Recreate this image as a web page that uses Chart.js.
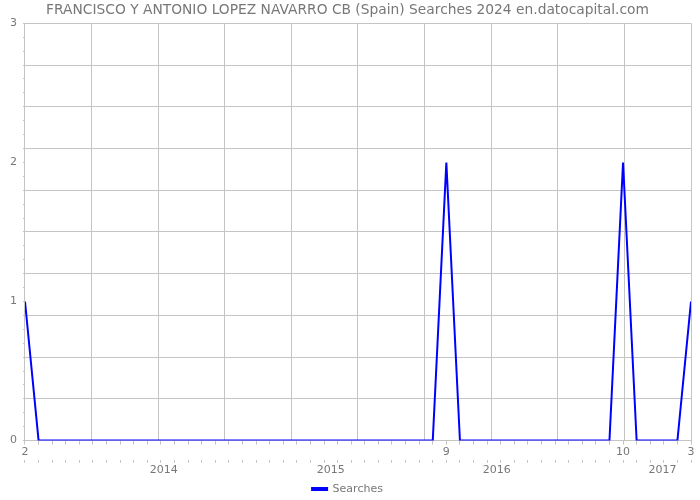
<!DOCTYPE html>
<html>
<head>
<meta charset="utf-8">
<script src="https://cdn.jsdelivr.net/npm/chart.js@4"></script>
<style>
  html, body { margin: 0; padding: 0; background: #fff; }
  #wrap { width: 700px; height: 500px; }
</style>
</head>
<body>
<div id="wrap"><canvas id="c" width="700" height="500"></canvas></div>
<script>
// ---- data (monthly, Feb 2013 .. Mar 2017) ----
const months = [
  '2013-02','2013-03','2013-04','2013-05','2013-06','2013-07','2013-08','2013-09','2013-10','2013-11','2013-12',
  '2014-01','2014-02','2014-03','2014-04','2014-05','2014-06','2014-07','2014-08','2014-09','2014-10','2014-11','2014-12',
  '2015-01','2015-02','2015-03','2015-04','2015-05','2015-06','2015-07','2015-08','2015-09','2015-10','2015-11','2015-12',
  '2016-01','2016-02','2016-03','2016-04','2016-05','2016-06','2016-07','2016-08','2016-09','2016-10','2016-11','2016-12',
  '2017-01','2017-02','2017-03'
];
const searches = [
  1,0,0,0,0,0,0,0,0,0,0,
  0,0,0,0,0,0,0,0,0,0,0,0,
  0,0,0,0,0,0,0,0,2,0,0,0,
  0,0,0,0,0,0,0,0,0,2,0,0,
  0,0,1
];
// month-number labels shown under the axis (by month string)
const monthTickLabels = { '2013-02': '2', '2015-09': '9', '2016-10': '10', '2017-03': '3' };
// year labels and their position along the month axis (in months from the first point)
const yearLabels = ['2014', '2015', '2016', '2017'];
const yearLabelAt = [10.2, 22.5, 34.7, 46.9];
const yTickLabels = ['0', '1', '2', '3'];

const FONT = "'DejaVu Sans', sans-serif";
const GRID = '#c4c4c4';
const TXT = '#777777';
const lastIdx = months.length - 1;

const points = searches.map((v, i) => ({ x: i, y: v }));

new Chart(document.getElementById('c'), {
  type: 'line',
  data: {
    datasets: [{
      label: 'Searches',
      data: points,
      borderColor: '#0000ff',
      backgroundColor: '#0000ff',
      borderWidth: 2,
      pointRadius: 0,
      tension: 0,
      fill: false
    }]
  },
  options: {
    responsive: false,
    animation: false,
    events: [],
    layout: { padding: { left: 4, right: 9, top: 0, bottom: -4.5 } },
    plugins: {
      title: {
        display: true,
        text: 'FRANCISCO Y ANTONIO LOPEZ NAVARRO CB (Spain) Searches 2024 en.datocapital.com',
        color: TXT,
        font: { family: FONT, size: 13.8, weight: 'normal' },
        padding: { top: 2.4, bottom: 4.4 }
      },
      legend: {
        position: 'bottom',
        labels: {
          boxWidth: 15, boxHeight: 2,
          color: TXT,
          font: { family: FONT, size: 11 },
          padding: 5.5
        }
      },
      tooltip: { enabled: false }
    },
    scales: {
      x: {
        type: 'linear', position: 'bottom', weight: 0,
        min: 0, max: lastIdx,
        afterBuildTicks: (s) => {
          const t = months.map((m, i) => ({ value: i, kind: 'm', m: m }));
          for (let k = 0; k <= 10; k++) t.push({ value: lastIdx * k / 10, kind: 'g' });
          s.ticks = t;
        },
        ticks: {
          autoSkip: false, maxRotation: 0, minRotation: 0,
          color: TXT, font: { family: FONT, size: 11 }, padding: 1,
          callback: function (v, i, t) {
            const tk = t[i];
            if (tk.kind === 'm' && monthTickLabels[tk.m]) return monthTickLabels[tk.m];
            return '';
          }
        },
        grid: {
          display: true, drawOnChartArea: true, drawTicks: true, tickLength: 4,
          color: (c) => (c.tick && c.tick.kind === 'g') ? GRID : 'rgba(0,0,0,0)',
          tickColor: (c) => (c.tick && c.tick.kind === 'm') ? GRID : 'rgba(0,0,0,0)',
          lineWidth: 1
        },
        border: { display: false }
      },
      xYears: {
        type: 'linear', position: 'bottom', weight: 1,
        min: 0, max: lastIdx,
        afterBuildTicks: (s) => {
          const t = months.map((m, i) => ({ value: i, kind: 'm' }));
          yearLabels.forEach((y, j) => t.push({ value: yearLabelAt[j], kind: 'y', y: y }));
          s.ticks = t;
        },
        ticks: {
          autoSkip: false, maxRotation: 0, minRotation: 0,
          color: TXT, font: { family: FONT, size: 11 }, padding: 1,
          callback: function (v, i, t) {
            const tk = t[i];
            return tk.kind === 'y' ? tk.y : '';
          }
        },
        grid: {
          display: true, drawOnChartArea: false, drawTicks: true, tickLength: 3,
          color: 'rgba(0,0,0,0)',
          tickColor: (c) => (c.tick && c.tick.kind === 'm') ? GRID : 'rgba(0,0,0,0)'
        },
        border: { display: false }
      },
      y: {
        type: 'linear', position: 'left',
        min: 0, max: 3,
        afterBuildTicks: (s) => {
          const t = [];
          for (let i = 0; i <= 30; i++) t.push({ value: i / 10, idx: i });
          s.ticks = t;
        },
        ticks: {
          autoSkip: false, color: TXT, font: { family: FONT, size: 11 }, padding: 6,
          callback: function (v, i, t) {
            const k = t[i].idx;
            return (k % 10 === 0) ? yTickLabels[k / 10] : '';
          }
        },
        grid: {
          display: true, drawTicks: true, tickLength: 2,
          color: (c) => (c.tick && c.tick.idx % 3 === 0) ? GRID : 'rgba(0,0,0,0)',
          tickColor: GRID
        },
        border: { display: false }
      }
    }
  }
});
</script>
</body>
</html>
